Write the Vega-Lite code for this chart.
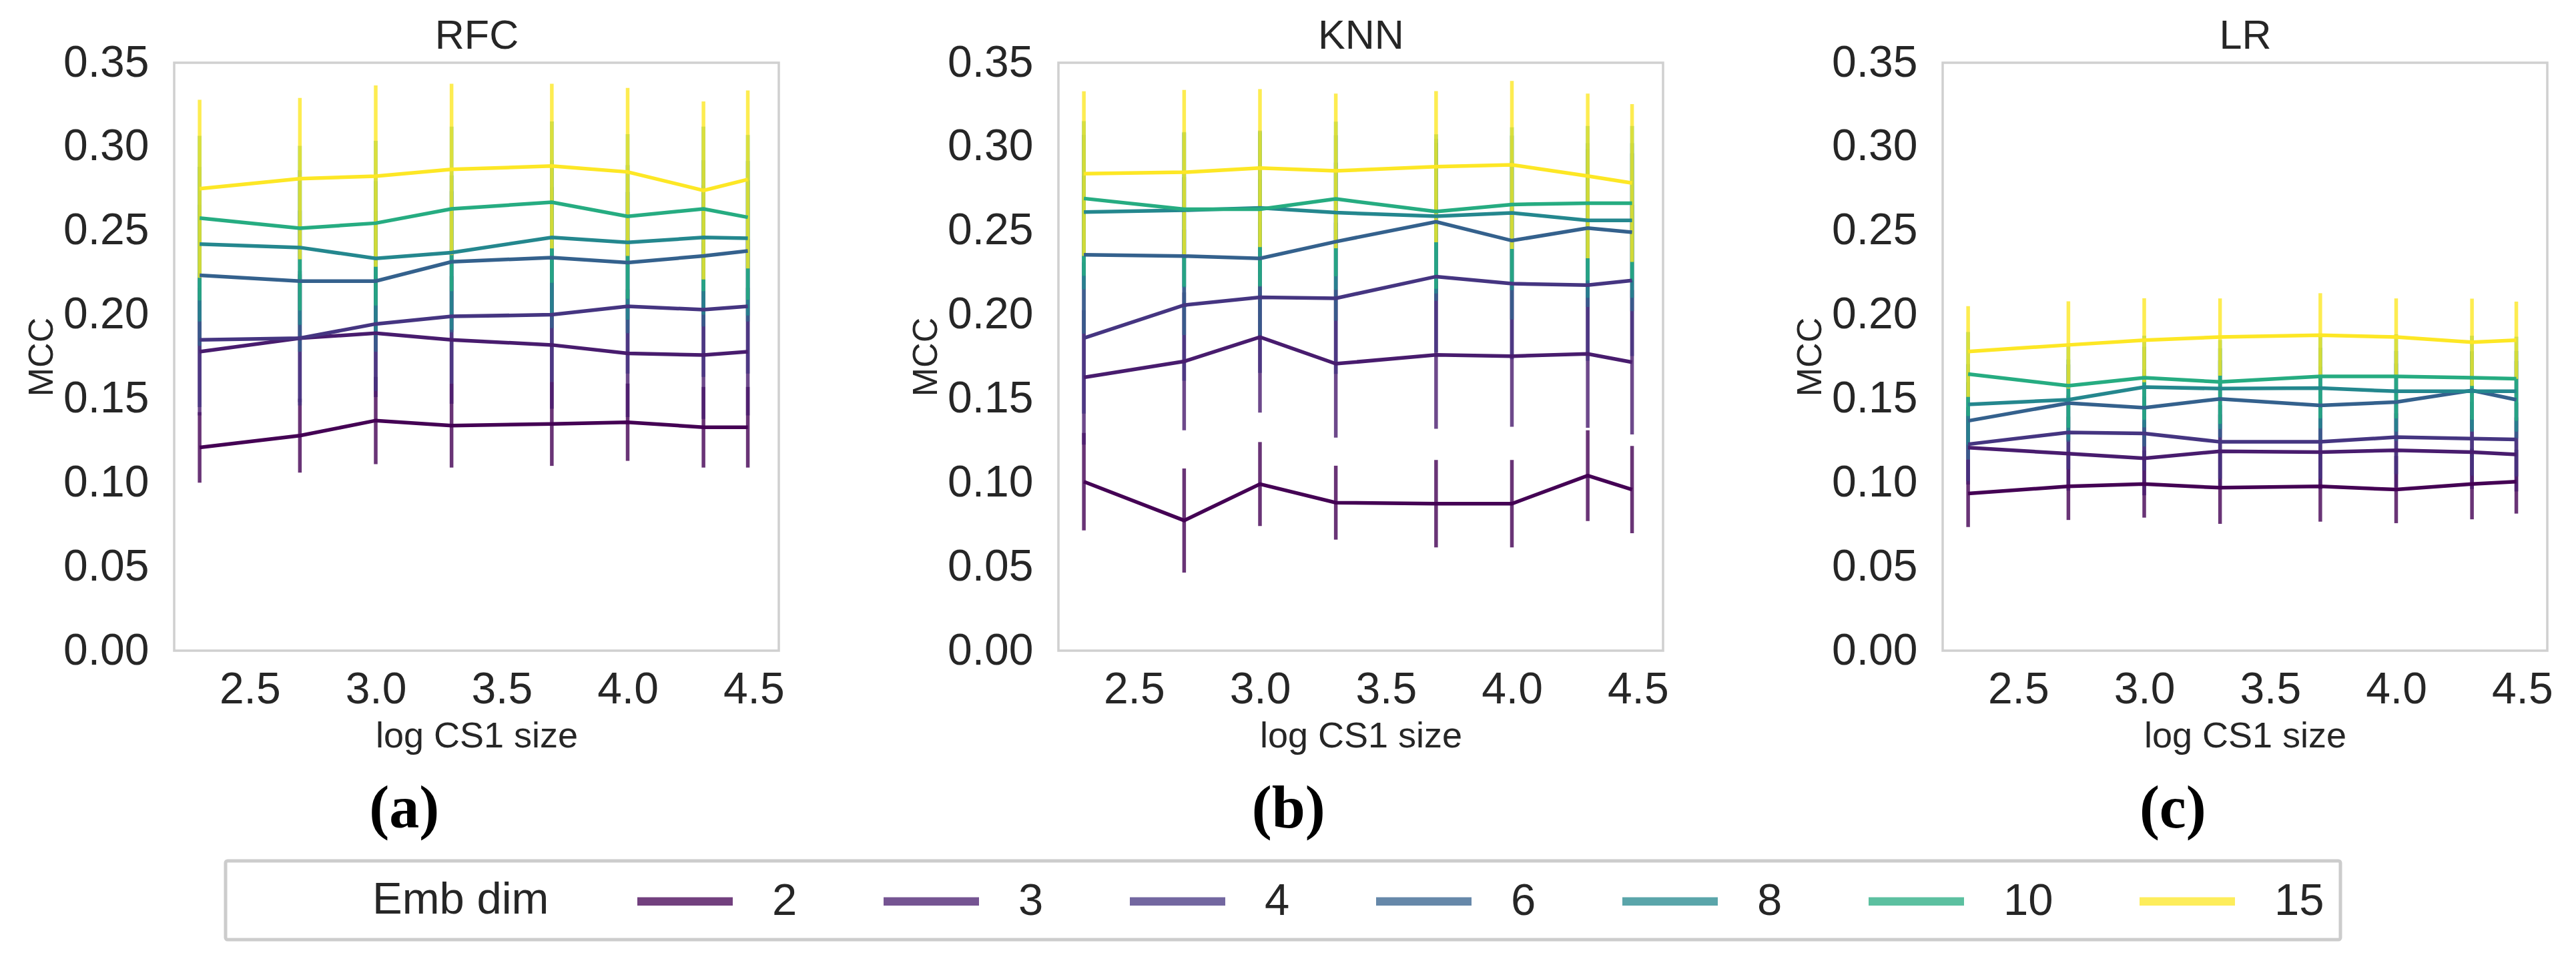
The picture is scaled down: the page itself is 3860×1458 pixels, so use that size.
{
  "$schema": "https://vega.github.io/schema/vega-lite/v6.json",
  "background": "white",
  "padding": {"left": 34, "top": 21, "right": 0, "bottom": 0},
  "datasets": {
    "rfc": [
      {"x":2.301,"dim":2,"mcc":0.121,"err":0.021},{"x":2.699,"dim":2,"mcc":0.128,"err":0.022},{"x":3.0,"dim":2,"mcc":0.137,"err":0.026},{"x":3.301,"dim":2,"mcc":0.134,"err":0.025},{"x":3.699,"dim":2,"mcc":0.135,"err":0.025},{"x":4.0,"dim":2,"mcc":0.136,"err":0.023},{"x":4.301,"dim":2,"mcc":0.133,"err":0.024},{"x":4.477,"dim":2,"mcc":0.133,"err":0.024},
      {"x":2.301,"dim":3,"mcc":0.178,"err":0.038},{"x":2.699,"dim":3,"mcc":0.186,"err":0.038},{"x":3.0,"dim":3,"mcc":0.189,"err":0.038},{"x":3.301,"dim":3,"mcc":0.185,"err":0.038},{"x":3.699,"dim":3,"mcc":0.182,"err":0.038},{"x":4.0,"dim":3,"mcc":0.177,"err":0.038},{"x":4.301,"dim":3,"mcc":0.176,"err":0.038},{"x":4.477,"dim":3,"mcc":0.178,"err":0.038},
      {"x":2.301,"dim":4,"mcc":0.185,"err":0.040},{"x":2.699,"dim":4,"mcc":0.186,"err":0.040},{"x":3.0,"dim":4,"mcc":0.1945,"err":0.040},{"x":3.301,"dim":4,"mcc":0.199,"err":0.040},{"x":3.699,"dim":4,"mcc":0.200,"err":0.040},{"x":4.0,"dim":4,"mcc":0.205,"err":0.040},{"x":4.301,"dim":4,"mcc":0.203,"err":0.040},{"x":4.477,"dim":4,"mcc":0.205,"err":0.040},
      {"x":2.301,"dim":6,"mcc":0.2235,"err":0.042},{"x":2.699,"dim":6,"mcc":0.220,"err":0.042},{"x":3.0,"dim":6,"mcc":0.220,"err":0.042},{"x":3.301,"dim":6,"mcc":0.2315,"err":0.042},{"x":3.699,"dim":6,"mcc":0.234,"err":0.042},{"x":4.0,"dim":6,"mcc":0.231,"err":0.042},{"x":4.301,"dim":6,"mcc":0.235,"err":0.042},{"x":4.477,"dim":6,"mcc":0.238,"err":0.042},
      {"x":2.301,"dim":8,"mcc":0.242,"err":0.046},{"x":2.699,"dim":8,"mcc":0.240,"err":0.046},{"x":3.0,"dim":8,"mcc":0.2335,"err":0.046},{"x":3.301,"dim":8,"mcc":0.237,"err":0.046},{"x":3.699,"dim":8,"mcc":0.246,"err":0.046},{"x":4.0,"dim":8,"mcc":0.243,"err":0.046},{"x":4.301,"dim":8,"mcc":0.246,"err":0.046},{"x":4.477,"dim":8,"mcc":0.2455,"err":0.046},
      {"x":2.301,"dim":10,"mcc":0.2575,"err":0.049},{"x":2.699,"dim":10,"mcc":0.2515,"err":0.049},{"x":3.0,"dim":10,"mcc":0.2545,"err":0.049},{"x":3.301,"dim":10,"mcc":0.263,"err":0.049},{"x":3.699,"dim":10,"mcc":0.267,"err":0.048},{"x":4.0,"dim":10,"mcc":0.2585,"err":0.049},{"x":4.301,"dim":10,"mcc":0.263,"err":0.049},{"x":4.477,"dim":10,"mcc":0.258,"err":0.049},
      {"x":2.301,"dim":15,"mcc":0.275,"err":0.053},{"x":2.699,"dim":15,"mcc":0.281,"err":0.048},{"x":3.0,"dim":15,"mcc":0.2825,"err":0.054},{"x":3.301,"dim":15,"mcc":0.2865,"err":0.051},{"x":3.699,"dim":15,"mcc":0.2885,"err":0.049},{"x":4.0,"dim":15,"mcc":0.285,"err":0.050},{"x":4.301,"dim":15,"mcc":0.274,"err":0.053},{"x":4.477,"dim":15,"mcc":0.2805,"err":0.053}
    ],
    "knn": [
      {"x":2.301,"dim":2,"mcc":0.1006,"err":0.029},{"x":2.699,"dim":2,"mcc":0.0775,"err":0.031},{"x":3.0,"dim":2,"mcc":0.0992,"err":0.025},{"x":3.301,"dim":2,"mcc":0.0881,"err":0.022},{"x":3.699,"dim":2,"mcc":0.0875,"err":0.026},{"x":4.0,"dim":2,"mcc":0.0875,"err":0.026},{"x":4.301,"dim":2,"mcc":0.1042,"err":0.027},{"x":4.477,"dim":2,"mcc":0.0959,"err":0.026},
      {"x":2.301,"dim":3,"mcc":0.1627,"err":0.040},{"x":2.699,"dim":3,"mcc":0.1722,"err":0.041},{"x":3.0,"dim":3,"mcc":0.1867,"err":0.045},{"x":3.301,"dim":3,"mcc":0.1708,"err":0.044},{"x":3.699,"dim":3,"mcc":0.1761,"err":0.044},{"x":4.0,"dim":3,"mcc":0.1753,"err":0.042},{"x":4.301,"dim":3,"mcc":0.1767,"err":0.044},{"x":4.477,"dim":3,"mcc":0.1717,"err":0.043},
      {"x":2.301,"dim":4,"mcc":0.1861,"err":0.045},{"x":2.699,"dim":4,"mcc":0.2057,"err":0.045},{"x":3.0,"dim":4,"mcc":0.2104,"err":0.045},{"x":3.301,"dim":4,"mcc":0.2098,"err":0.045},{"x":3.699,"dim":4,"mcc":0.2227,"err":0.045},{"x":4.0,"dim":4,"mcc":0.2185,"err":0.045},{"x":4.301,"dim":4,"mcc":0.2176,"err":0.045},{"x":4.477,"dim":4,"mcc":0.2204,"err":0.045},
      {"x":2.301,"dim":6,"mcc":0.2357,"err":0.047},{"x":2.699,"dim":6,"mcc":0.2349,"err":0.047},{"x":3.0,"dim":6,"mcc":0.2335,"err":0.047},{"x":3.301,"dim":6,"mcc":0.2435,"err":0.047},{"x":3.699,"dim":6,"mcc":0.2553,"err":0.047},{"x":4.0,"dim":6,"mcc":0.2441,"err":0.047},{"x":4.301,"dim":6,"mcc":0.2516,"err":0.047},{"x":4.477,"dim":6,"mcc":0.2491,"err":0.047},
      {"x":2.301,"dim":8,"mcc":0.2611,"err":0.046},{"x":2.699,"dim":8,"mcc":0.2622,"err":0.046},{"x":3.0,"dim":8,"mcc":0.2636,"err":0.046},{"x":3.301,"dim":8,"mcc":0.2608,"err":0.046},{"x":3.699,"dim":8,"mcc":0.2586,"err":0.046},{"x":4.0,"dim":8,"mcc":0.2606,"err":0.046},{"x":4.301,"dim":8,"mcc":0.2561,"err":0.046},{"x":4.477,"dim":8,"mcc":0.2561,"err":0.046},
      {"x":2.301,"dim":10,"mcc":0.2692,"err":0.046},{"x":2.699,"dim":10,"mcc":0.2628,"err":0.046},{"x":3.0,"dim":10,"mcc":0.2628,"err":0.046},{"x":3.301,"dim":10,"mcc":0.2689,"err":0.046},{"x":3.699,"dim":10,"mcc":0.2614,"err":0.046},{"x":4.0,"dim":10,"mcc":0.2656,"err":0.046},{"x":4.301,"dim":10,"mcc":0.2664,"err":0.046},{"x":4.477,"dim":10,"mcc":0.2664,"err":0.046},
      {"x":2.301,"dim":15,"mcc":0.284,"err":0.049},{"x":2.699,"dim":15,"mcc":0.2848,"err":0.049},{"x":3.0,"dim":15,"mcc":0.2873,"err":0.047},{"x":3.301,"dim":15,"mcc":0.2856,"err":0.046},{"x":3.699,"dim":15,"mcc":0.2881,"err":0.045},{"x":4.0,"dim":15,"mcc":0.2892,"err":0.050},{"x":4.301,"dim":15,"mcc":0.2826,"err":0.049},{"x":4.477,"dim":15,"mcc":0.2784,"err":0.047}
    ],
    "lr": [
      {"x":2.301,"dim":2,"mcc":0.0936,"err":0.020},{"x":2.699,"dim":2,"mcc":0.0978,"err":0.020},{"x":3.0,"dim":2,"mcc":0.0992,"err":0.020},{"x":3.301,"dim":2,"mcc":0.097,"err":0.0215},{"x":3.699,"dim":2,"mcc":0.0978,"err":0.021},{"x":4.0,"dim":2,"mcc":0.0959,"err":0.020},{"x":4.301,"dim":2,"mcc":0.0992,"err":0.021},{"x":4.477,"dim":2,"mcc":0.1006,"err":0.019},
      {"x":2.301,"dim":3,"mcc":0.1209,"err":0.022},{"x":2.699,"dim":3,"mcc":0.1173,"err":0.022},{"x":3.0,"dim":3,"mcc":0.1145,"err":0.022},{"x":3.301,"dim":3,"mcc":0.1187,"err":0.022},{"x":3.699,"dim":3,"mcc":0.1182,"err":0.022},{"x":4.0,"dim":3,"mcc":0.1193,"err":0.022},{"x":4.301,"dim":3,"mcc":0.1182,"err":0.022},{"x":4.477,"dim":3,"mcc":0.1168,"err":0.022},
      {"x":2.301,"dim":4,"mcc":0.1229,"err":0.022},{"x":2.699,"dim":4,"mcc":0.1299,"err":0.022},{"x":3.0,"dim":4,"mcc":0.1293,"err":0.022},{"x":3.301,"dim":4,"mcc":0.1243,"err":0.022},{"x":3.699,"dim":4,"mcc":0.1243,"err":0.022},{"x":4.0,"dim":4,"mcc":0.1271,"err":0.022},{"x":4.301,"dim":4,"mcc":0.1262,"err":0.022},{"x":4.477,"dim":4,"mcc":0.1257,"err":0.022},
      {"x":2.301,"dim":6,"mcc":0.1368,"err":0.023},{"x":2.699,"dim":6,"mcc":0.1474,"err":0.023},{"x":3.0,"dim":6,"mcc":0.1446,"err":0.023},{"x":3.301,"dim":6,"mcc":0.1499,"err":0.023},{"x":3.699,"dim":6,"mcc":0.146,"err":0.023},{"x":4.0,"dim":6,"mcc":0.148,"err":0.023},{"x":4.301,"dim":6,"mcc":0.1549,"err":0.023},{"x":4.477,"dim":6,"mcc":0.1494,"err":0.023},
      {"x":2.301,"dim":8,"mcc":0.1466,"err":0.024},{"x":2.699,"dim":8,"mcc":0.1494,"err":0.024},{"x":3.0,"dim":8,"mcc":0.1569,"err":0.024},{"x":3.301,"dim":8,"mcc":0.156,"err":0.024},{"x":3.699,"dim":8,"mcc":0.1563,"err":0.024},{"x":4.0,"dim":8,"mcc":0.1544,"err":0.024},{"x":4.301,"dim":8,"mcc":0.1544,"err":0.024},{"x":4.477,"dim":8,"mcc":0.1544,"err":0.024},
      {"x":2.301,"dim":10,"mcc":0.1647,"err":0.025},{"x":2.699,"dim":10,"mcc":0.1577,"err":0.025},{"x":3.0,"dim":10,"mcc":0.1625,"err":0.025},{"x":3.301,"dim":10,"mcc":0.160,"err":0.025},{"x":3.699,"dim":10,"mcc":0.1633,"err":0.025},{"x":4.0,"dim":10,"mcc":0.1633,"err":0.025},{"x":4.301,"dim":10,"mcc":0.1625,"err":0.025},{"x":4.477,"dim":10,"mcc":0.1619,"err":0.025},
      {"x":2.301,"dim":15,"mcc":0.1781,"err":0.027},{"x":2.699,"dim":15,"mcc":0.182,"err":0.026},{"x":3.0,"dim":15,"mcc":0.1848,"err":0.025},{"x":3.301,"dim":15,"mcc":0.1867,"err":0.023},{"x":3.699,"dim":15,"mcc":0.1878,"err":0.025},{"x":4.0,"dim":15,"mcc":0.1867,"err":0.023},{"x":4.301,"dim":15,"mcc":0.1836,"err":0.026},{"x":4.477,"dim":15,"mcc":0.1848,"err":0.023}
    ]
  },
  "config": {
    "font": "Liberation Sans",
    "view": {"stroke": "#d0d0d0", "strokeWidth": 3.5},
    "axis": {
      "grid": false, "ticks": false, "domain": false,
      "labelFont": "Liberation Sans", "labelFontSize": 66, "labelColor": "#262626",
      "titleFont": "Liberation Sans", "titleFontSize": 54, "titleFontWeight": "normal", "titleColor": "#262626"
    },
    "legend": {
      "orient": "none", "legendX": 77, "legendY": 1196,
      "direction": "horizontal",
      "titleOrient": "left", "titleFont": "Liberation Sans", "titleFontSize": 67, "titleFontWeight": "normal", "titleColor": "#262626",
      "titlePadding": 167, "titleBaseline": "middle", "titleAnchor": "middle", "titleLimit": 2000,
      "labelFont": "Liberation Sans", "labelFontSize": 67, "labelColor": "#262626", "labelOffset": 94,
      "symbolType": "M-2.383,0L2.383,0", "symbolSize": 3600, "symbolStrokeWidth": 12.6, "symbolOpacity": 0.75,
      "columnPadding": 103, "padding": 24,
      "strokeColor": "#cccccc", "strokeWidth": 5, "fillColor": "white", "cornerRadius": 3
    }
  },
  "spacing": 182,
  "resolve": {"scale": {"color": "shared"}},
  "hconcat": [
    {
      "width": 906, "height": 881,
      "data": {"name": "rfc"},
      "title": {"text": "(a)", "orient": "bottom", "frame": "bounds", "anchor": "middle", "offset": 39, "font": "Liberation Serif", "fontSize": 90, "fontWeight": "bold", "color": "black"},
      "resolve": {"axis": {"x": "independent"}},
      "layer": [
        {
          "mark": {"type": "errorbar", "thickness": 5.5, "opacity": 0.8},
          "encoding": {
            "x": {"field": "x", "type": "quantitative", "scale": {"domain": [2.2, 4.6], "nice": false, "zero": false}, "axis": {"orient": "bottom", "title": "log CS1 size", "values": [2.5, 3, 3.5, 4, 4.5], "format": ".1f", "labelPadding": 26, "titlePadding": 10}},
            "y": {"field": "mcc", "type": "quantitative", "scale": {"domain": [0, 0.35], "nice": false, "zero": false}, "axis": {"title": "MCC", "values": [0, 0.05, 0.1, 0.15, 0.2, 0.25, 0.3, 0.35], "format": ".2f", "labelPadding": 38, "titlePadding": 5, "titleFontSize": 52}},
            "yError": {"field": "err"},
            "color": {"field": "dim", "type": "ordinal", "title": "\u2800\u2800\u2800\u2800Emb dim", "scale": {"domain": [2, 3, 4, 6, 8, 10, 15], "range": ["#440154", "#481c6e", "#453581", "#34618d", "#24878e", "#26ac81", "#fde725"]}}
          }
        },
        {
          "mark": {"type": "line", "strokeWidth": 5.5},
          "encoding": {
            "x": {"field": "x", "type": "quantitative", "scale": {"domain": [2.2, 4.6], "nice": false, "zero": false}, "axis": {"orient": "top", "title": "RFC", "labels": false, "labelPadding": 0, "titleFontSize": 61, "titlePadding": 9}},
            "y": {"field": "mcc", "type": "quantitative", "scale": {"domain": [0, 0.35], "nice": false, "zero": false}, "axis": {"title": "MCC", "values": [0, 0.05, 0.1, 0.15, 0.2, 0.25, 0.3, 0.35], "format": ".2f", "labelPadding": 38, "titlePadding": 5, "titleFontSize": 52}},
            "color": {"field": "dim", "type": "ordinal", "title": "\u2800\u2800\u2800\u2800Emb dim", "scale": {"domain": [2, 3, 4, 6, 8, 10, 15], "range": ["#440154", "#481c6e", "#453581", "#34618d", "#24878e", "#26ac81", "#fde725"]}}
          }
        }
      ]
    },
    {
      "width": 906, "height": 881,
      "data": {"name": "knn"},
      "title": {"text": "(b)", "orient": "bottom", "frame": "bounds", "anchor": "middle", "offset": 39, "font": "Liberation Serif", "fontSize": 90, "fontWeight": "bold", "color": "black"},
      "resolve": {"axis": {"x": "independent"}},
      "layer": [
        {
          "mark": {"type": "errorbar", "thickness": 5.5, "opacity": 0.8},
          "encoding": {
            "x": {"field": "x", "type": "quantitative", "scale": {"domain": [2.2, 4.6], "nice": false, "zero": false}, "axis": {"orient": "bottom", "title": "log CS1 size", "values": [2.5, 3, 3.5, 4, 4.5], "format": ".1f", "labelPadding": 26, "titlePadding": 10}},
            "y": {"field": "mcc", "type": "quantitative", "scale": {"domain": [0, 0.35], "nice": false, "zero": false}, "axis": {"title": "MCC", "values": [0, 0.05, 0.1, 0.15, 0.2, 0.25, 0.3, 0.35], "format": ".2f", "labelPadding": 38, "titlePadding": 5, "titleFontSize": 52}},
            "yError": {"field": "err"},
            "color": {"field": "dim", "type": "ordinal", "title": "\u2800\u2800\u2800\u2800Emb dim", "scale": {"domain": [2, 3, 4, 6, 8, 10, 15], "range": ["#440154", "#481c6e", "#453581", "#34618d", "#24878e", "#26ac81", "#fde725"]}}
          }
        },
        {
          "mark": {"type": "line", "strokeWidth": 5.5},
          "encoding": {
            "x": {"field": "x", "type": "quantitative", "scale": {"domain": [2.2, 4.6], "nice": false, "zero": false}, "axis": {"orient": "top", "title": "KNN", "labels": false, "labelPadding": 0, "titleFontSize": 61, "titlePadding": 9}},
            "y": {"field": "mcc", "type": "quantitative", "scale": {"domain": [0, 0.35], "nice": false, "zero": false}, "axis": {"title": "MCC", "values": [0, 0.05, 0.1, 0.15, 0.2, 0.25, 0.3, 0.35], "format": ".2f", "labelPadding": 38, "titlePadding": 5, "titleFontSize": 52}},
            "color": {"field": "dim", "type": "ordinal", "title": "\u2800\u2800\u2800\u2800Emb dim", "scale": {"domain": [2, 3, 4, 6, 8, 10, 15], "range": ["#440154", "#481c6e", "#453581", "#34618d", "#24878e", "#26ac81", "#fde725"]}}
          }
        }
      ]
    },
    {
      "width": 906, "height": 881,
      "data": {"name": "lr"},
      "title": {"text": "(c)", "orient": "bottom", "frame": "bounds", "anchor": "middle", "offset": 39, "font": "Liberation Serif", "fontSize": 90, "fontWeight": "bold", "color": "black"},
      "resolve": {"axis": {"x": "independent"}},
      "layer": [
        {
          "mark": {"type": "errorbar", "thickness": 5.5, "opacity": 0.8},
          "encoding": {
            "x": {"field": "x", "type": "quantitative", "scale": {"domain": [2.2, 4.6], "nice": false, "zero": false}, "axis": {"orient": "bottom", "title": "log CS1 size", "values": [2.5, 3, 3.5, 4, 4.5], "format": ".1f", "labelPadding": 26, "titlePadding": 10}},
            "y": {"field": "mcc", "type": "quantitative", "scale": {"domain": [0, 0.35], "nice": false, "zero": false}, "axis": {"title": "MCC", "values": [0, 0.05, 0.1, 0.15, 0.2, 0.25, 0.3, 0.35], "format": ".2f", "labelPadding": 38, "titlePadding": 5, "titleFontSize": 52}},
            "yError": {"field": "err"},
            "color": {"field": "dim", "type": "ordinal", "title": "\u2800\u2800\u2800\u2800Emb dim", "scale": {"domain": [2, 3, 4, 6, 8, 10, 15], "range": ["#440154", "#481c6e", "#453581", "#34618d", "#24878e", "#26ac81", "#fde725"]}}
          }
        },
        {
          "mark": {"type": "line", "strokeWidth": 5.5},
          "encoding": {
            "x": {"field": "x", "type": "quantitative", "scale": {"domain": [2.2, 4.6], "nice": false, "zero": false}, "axis": {"orient": "top", "title": "LR", "labels": false, "labelPadding": 0, "titleFontSize": 61, "titlePadding": 9}},
            "y": {"field": "mcc", "type": "quantitative", "scale": {"domain": [0, 0.35], "nice": false, "zero": false}, "axis": {"title": "MCC", "values": [0, 0.05, 0.1, 0.15, 0.2, 0.25, 0.3, 0.35], "format": ".2f", "labelPadding": 38, "titlePadding": 5, "titleFontSize": 52}},
            "color": {"field": "dim", "type": "ordinal", "title": "\u2800\u2800\u2800\u2800Emb dim", "scale": {"domain": [2, 3, 4, 6, 8, 10, 15], "range": ["#440154", "#481c6e", "#453581", "#34618d", "#24878e", "#26ac81", "#fde725"]}}
          }
        }
      ]
    }
  ]
}
